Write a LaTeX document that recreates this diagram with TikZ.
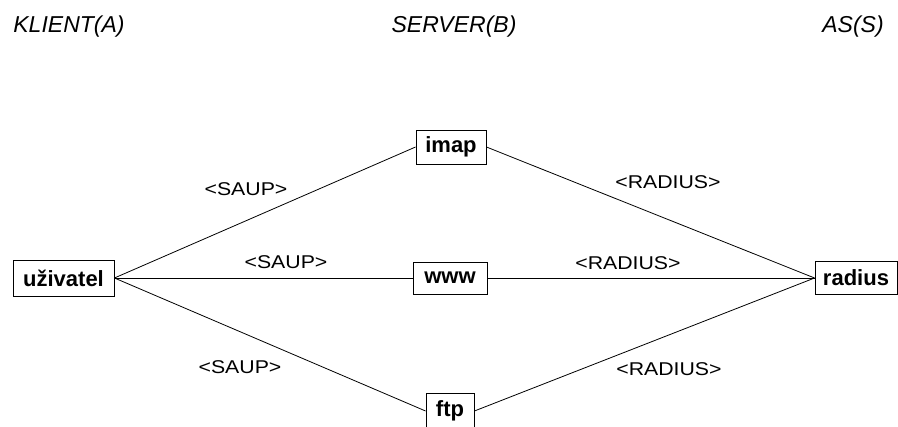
\documentclass[tikz,border=0pt]{standalone}
\usepackage{fontspec}
\setmainfont{Liberation Sans}
\usepackage{tikz}
\usetikzlibrary{positioning}

\begin{document}
\begin{tikzpicture}[x=1pt, y=-1pt,
                    host/.style={rectangle, draw=black, line width=0.9pt, inner sep=0pt,
                                 minimum height=34pt, font=\fontsize{22}{25}\selectfont\bfseries},
                    party/.style={font=\fontsize{23}{26}\selectfont\itshape},
                    proto/.style={font=\fontsize{18.5}{21}\selectfont},
                    link/.style={draw=black, line width=0.8pt}]
            \useasboundingbox (0,0) rectangle (898,427);
            \clip (0,0) rectangle (898,427);

            % Parties
            \node[party] (klient) at (69,27) {KLIENT(A)};
            \node[party] (server) at (454,27) {SERVER(B)};
            \node[party] (as) at (853,27) {AS(S)};

            % Hosts
            \node[host, minimum width=101pt, minimum height=36pt] (uzivatel) at (63.5,278) {uživatel};
            \node[host, minimum width=70pt] (imap) at (451,147) {imap};
            \node[host, minimum width=74pt, minimum height=32pt] (www) at (450,278) {www};
            \node[host, minimum width=48pt, minimum height=36pt] (ftp) at (450,411) {ftp};
            \node[host, minimum width=82pt, minimum height=33pt] (radius) at (856,278) {radius};

            % Client side
            \draw[link] (uzivatel.east) -- (imap.west);
            \draw[link] (uzivatel.east) -- (www.west);
            \draw[link] (uzivatel.east) -- (ftp.west);
            \node[proto] (saupa) at (246,189) {\scalebox{1.15}[1]{<SAUP>}};
            \node[proto] (saupb) at (286,262) {\scalebox{1.15}[1]{<SAUP>}};
            \node[proto] (saupc) at (240,367) {\scalebox{1.15}[1]{<SAUP>}};

            % Server side
            \draw[link] (imap.east) -- (radius.west);
            \draw[link] (www.east) -- (radius.west);
            \draw[link] (ftp.east) -- (radius.west);
            \node[proto] (radiusa) at (668,182) {\scalebox{1.15}[1]{<RADIUS>}};
            \node[proto] (radiusb) at (628,263) {\scalebox{1.15}[1]{<RADIUS>}};
            \node[proto] (radiusc) at (669,369) {\scalebox{1.15}[1]{<RADIUS>}};
        \end{tikzpicture}
\end{document}
